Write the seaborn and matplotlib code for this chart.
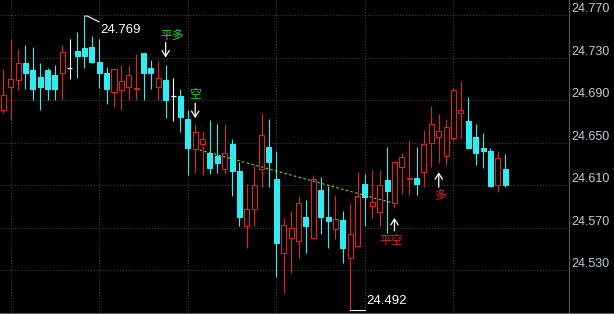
import matplotlib
matplotlib.use("Agg")
import matplotlib.pyplot as plt
from matplotlib.lines import Line2D
import numpy as np
import pandas as pd
import seaborn as sns

# ---------------- data (5-min candles) ----------------
opens = [24.681, 24.702, 24.709, 24.725, 24.718, 24.712, 24.718, 24.714, 24.715, 24.720,
         24.736, 24.739, 24.740, 24.726, 24.715, 24.698, 24.699, 24.702, 24.700, 24.734,
         24.720, 24.702, 24.709, 24.694, 24.694, 24.672, 24.644, 24.649, 24.640, 24.637,
         24.625, 24.649, 24.623, 24.571, 24.587, 24.625, 24.646, 24.616, 24.546, 24.560,
         24.557, 24.580, 24.560, 24.605, 24.580, 24.569, 24.577, 24.541, 24.553, 24.611,
         24.590, 24.585, 24.615, 24.593, 24.627, 24.616, 24.617, 24.622, 24.650, 24.655,
         24.637, 24.654, 24.678, 24.670, 24.655, 24.645, 24.642, 24.610, 24.625]
highs = [24.719, 24.747, 24.738, 24.742, 24.740, 24.725, 24.720, 24.723, 24.742, 24.747,
         24.754, 24.769, 24.750, 24.747, 24.721, 24.720, 24.723, 24.723, 24.733, 24.734,
         24.728, 24.727, 24.723, 24.711, 24.700, 24.681, 24.667, 24.661, 24.671, 24.667,
         24.667, 24.653, 24.632, 24.611, 24.629, 24.678, 24.672, 24.642, 24.579, 24.586,
         24.600, 24.596, 24.619, 24.618, 24.609, 24.601, 24.586, 24.593, 24.622, 24.620,
         24.624, 24.624, 24.646, 24.632, 24.640, 24.652, 24.646, 24.662, 24.684, 24.677,
         24.672, 24.701, 24.708, 24.693, 24.667, 24.659, 24.645, 24.642, 24.639]
lows = [24.678, 24.671, 24.699, 24.700, 24.690, 24.681, 24.690, 24.690, 24.690, 24.710,
        24.711, 24.720, 24.725, 24.701, 24.686, 24.683, 24.681, 24.690, 24.690, 24.690,
        24.700, 24.690, 24.673, 24.670, 24.660, 24.619, 24.621, 24.619, 24.620, 24.621,
        24.620, 24.600, 24.571, 24.551, 24.571, 24.608, 24.608, 24.523, 24.508, 24.527,
        24.541, 24.546, 24.560, 24.564, 24.551, 24.559, 24.537, 24.492, 24.553, 24.571,
        24.579, 24.571, 24.565, 24.588, 24.602, 24.601, 24.601, 24.608, 24.627, 24.631,
        24.629, 24.651, 24.654, 24.645, 24.629, 24.626, 24.608, 24.603, 24.608]
closes = [24.695, 24.710, 24.725, 24.715, 24.700, 24.702, 24.700, 24.700, 24.735, 24.720,
          24.731, 24.731, 24.726, 24.715, 24.700, 24.719, 24.708, 24.714, 24.701, 24.715,
          24.715, 24.711, 24.690, 24.694, 24.674, 24.645, 24.660, 24.653, 24.626, 24.631,
          24.640, 24.623, 24.580, 24.587, 24.610, 24.657, 24.632, 24.555, 24.572, 24.570,
          24.593, 24.571, 24.616, 24.580, 24.576, 24.578, 24.551, 24.564, 24.600, 24.599,
          24.594, 24.610, 24.604, 24.632, 24.636, 24.617, 24.611, 24.649, 24.667, 24.661,
          24.665, 24.699, 24.681, 24.645, 24.640, 24.642, 24.609, 24.635, 24.610]

y_ticks = [24.530, 24.570, 24.610, 24.650, 24.690, 24.730, 24.770]
vgrid_idx = [1, 13, 25, 37, 49, 61]

trend_x = [26.6, 52.8]
trend_y = [24.643, 24.593]

signal_text = ["平多", "空", "平空", "多"]
signal_idx = [22, 26, 53, 59]
signal_dir = ["down", "down", "up", "up"]
signal_tip = [24.730, 24.673, 24.579, 24.622]
signal_tail = [24.744, 24.687, 24.567, 24.608]

# ---------------- style ----------------
sns.set_theme(style="dark")
plt.rcParams["font.family"] = ["Liberation Sans", "Noto Sans CJK SC", "DejaVu Sans"]

RED = "#dc2323"
CYAN = "#30ecf0"
BG = "black"

fig = plt.figure(figsize=(6.14, 3.14), dpi=100, facecolor=BG)
ax = fig.add_axes([0, 1 / 314, 569 / 614, 313 / 314])
ax.set_facecolor(BG)

df = pd.DataFrame({"o": opens, "h": highs, "l": lows, "c": closes})
df["i"] = np.arange(len(df))

def col(o, c):
    if c > o:
        return RED
    if c < o:
        return CYAN
    return "white"

colors = [col(o, c) for o, c in zip(df.o, df.c)]
W = 0.68

# wicks
ax.vlines(df.i, df.l, df.h, colors=colors, linewidth=0.8, zorder=2)
# bodies
for i, o, c, cl in zip(df.i, df.o, df.c, colors):
    if c == o:
        ax.hlines(o, i - W / 2, i + W / 2, colors=cl, linewidth=0.9, zorder=3)
    else:
        face = BG if cl == RED else cl
        ax.bar(i, abs(c - o), bottom=min(o, c), width=W, facecolor=face,
               edgecolor=cl, linewidth=0.8, zorder=3)

# trend line
sns.lineplot(x=trend_x, y=trend_y, ax=ax, color="#78dc32", linewidth=0.8,
             linestyle=(0, (2.2, 2.2)), zorder=4)

# grid
for t in y_ticks:
    ax.axhline(t, color="#4a4a4a", linewidth=0.7, linestyle=(0, (1, 2)), zorder=0)
for v in vgrid_idx:
    ax.axvline(v, color="#4a4a4a", linewidth=0.7, linestyle=(0, (1, 2)), zorder=0)

ax.set_xlim(-0.447, 76.65)
ax.set_ylim(24.48953, 24.78412)
ax.grid(False)

# axes / ticks on the right
ax.yaxis.tick_right()
ax.set_yticks(y_ticks)
ax.set_yticklabels([f"{t:.3f}" for t in y_ticks])
ax.tick_params(axis="y", length=0, pad=2, labelsize=9, colors="#c4ccd4")
for lab in ax.get_yticklabels():
    lab.set_verticalalignment("bottom")
ax.set_xticks([])
for s in ["top", "left"]:
    ax.spines[s].set_visible(False)
ax.spines["right"].set_color("#5a5a5a")
ax.spines["right"].set_linewidth(0.8)
ax.spines["bottom"].set_color("#5a5a5a")
ax.spines["bottom"].set_linewidth(0.8)
fig.add_artist(Line2D([569 / 614, 1], [1 / 314, 1 / 314], color="#5a5a5a", linewidth=0.8))

# max / min labels
imax = int(np.argmax(highs))
imin = int(np.argmin(lows))
hmax = highs[imax]
lmin = lows[imin]
ax.plot([imax, imax + 0.4, imax + 2.0], [hmax, hmax, hmax - 0.0055],
        color="white", linewidth=0.8, zorder=5)
ax.text(imax + 2.1, hmax - 0.013, f"{hmax:.3f}", color="white", fontsize=9.5,
        va="center", ha="left", zorder=5)
ax.plot([imin, imin + 2.0], [lmin, lmin], color="white", linewidth=0.8, zorder=5)
ax.text(imin + 2.15, lmin + 0.0084, f"{lmin:.3f}", color="white", fontsize=9.5,
        va="center", ha="left", zorder=5)

# trade signals
text_off = {"平多": (0.86, 0.007), "空": (0.0, 0.008), "平空": (-0.4, -0.0092), "多": (0.2, -0.0083)}
for txt, i, d, tip, tail in zip(signal_text, signal_idx, signal_dir, signal_tip, signal_tail):
    ax.annotate("", xy=(i, tip), xytext=(i, tail),
                arrowprops=dict(arrowstyle="->,head_length=0.35,head_width=0.22",
                                color="white", lw=0.9, shrinkA=0, shrinkB=0), zorder=6)
    dx, dy = text_off[txt]
    ty = tail + dy
    ax.text(i + dx, ty, txt, color="#2ed22e" if d == "down" else "#e02828",
            fontsize=8.5, ha="center", va="center",
            family=["Noto Sans CJK SC", "DejaVu Sans"], zorder=6)

fig.savefig("out.png", dpi=100, facecolor=BG)
